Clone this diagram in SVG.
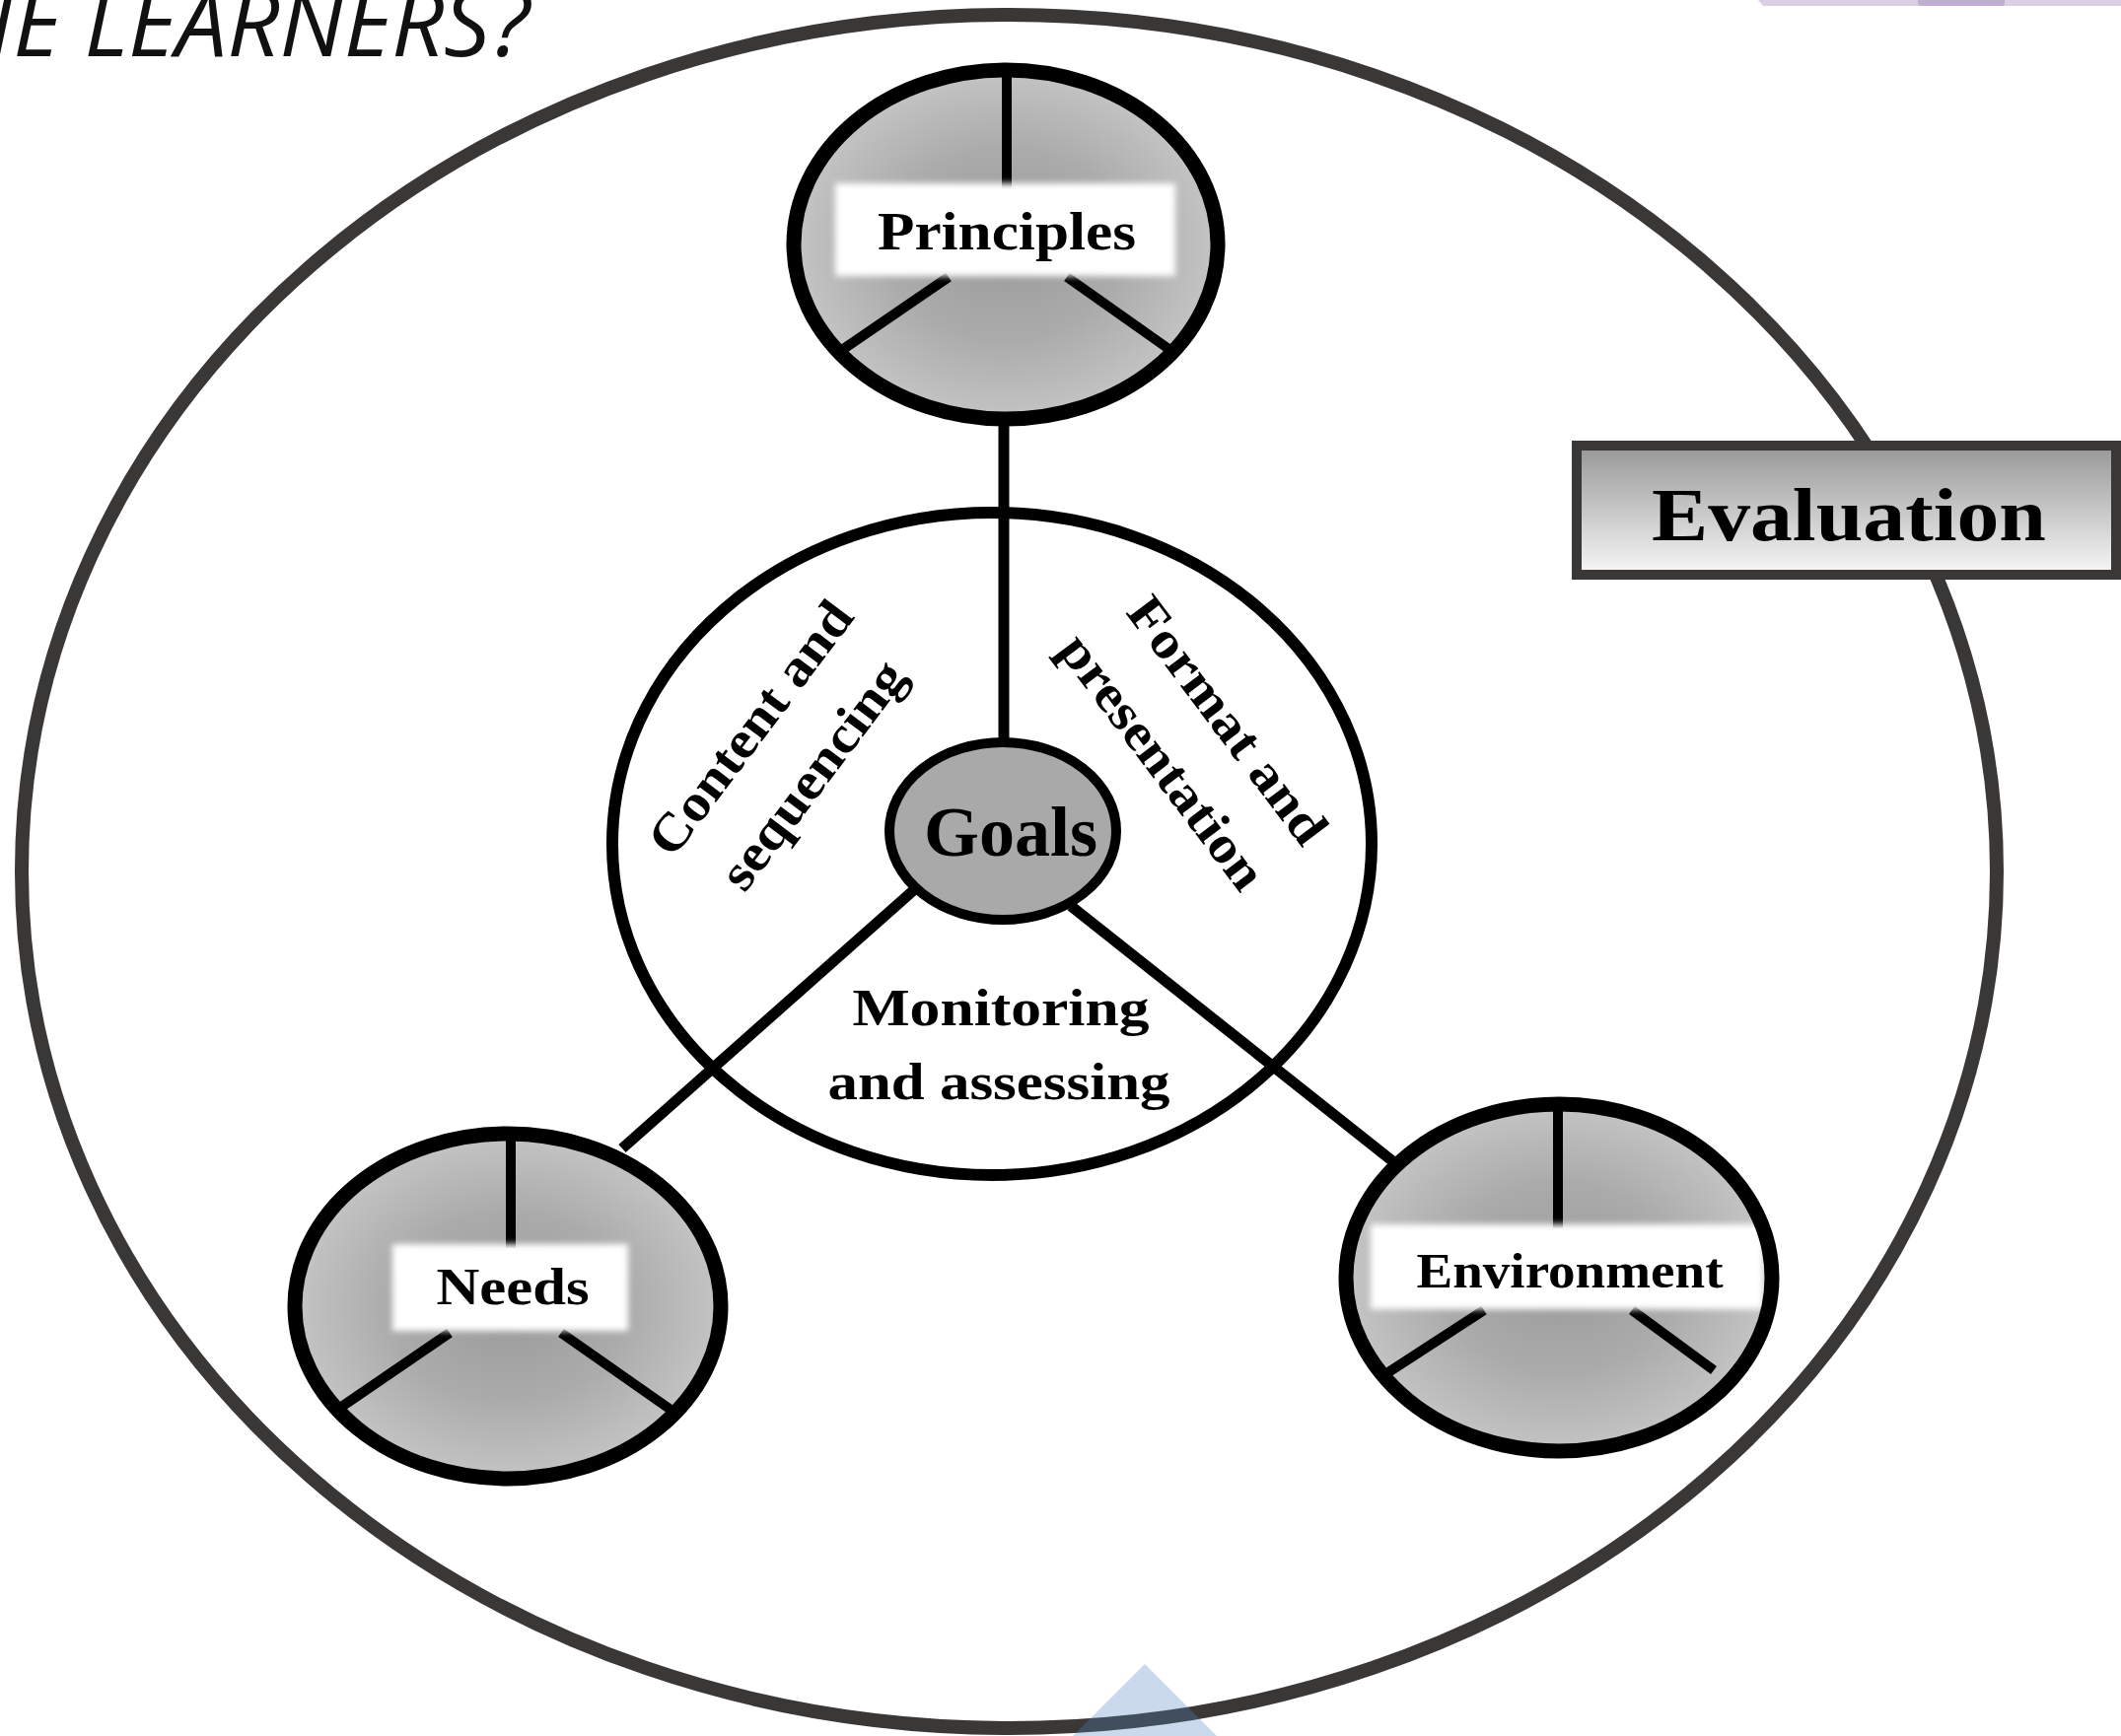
<svg xmlns="http://www.w3.org/2000/svg" width="2151" height="1761" viewBox="0 0 2151 1761">
<style>
.lbl{font-family:"Liberation Serif","Times New Roman",serif;font-weight:bold;fill:#000;text-anchor:middle}
.rim{fill:none;stroke:#000;stroke-width:15}
.seg{stroke:#000;stroke-width:10;fill:none}
.con{stroke:#000;stroke-width:11;fill:none}
.box{fill:#fff;filter:url(#soft)}
.ovl{fill-opacity:0.3}
</style>
<defs>
<radialGradient id="gFill" cx="50%" cy="50%" r="50%">
<stop offset="0" stop-color="#9a9a9a"/>
<stop offset="0.55" stop-color="#ababab"/>
<stop offset="1" stop-color="#c4c4c4"/>
</radialGradient>
<linearGradient id="evalFill" x1="0" y1="0" x2="0" y2="1">
<stop offset="0" stop-color="#979797"/>
<stop offset="1" stop-color="#f7f7f7"/>
</linearGradient>
<filter id="soft" x="-10%" y="-30%" width="120%" height="160%">
<feGaussianBlur stdDeviation="3"/>
</filter>
</defs>
<rect width="2151" height="1761" fill="#fff"/>
<g id="title">
<text x="-50" y="57" font-family="'Open Sans','Noto Sans',sans-serif" font-style="italic" font-size="93" fill="#111">HE LEARNERS?</text>
</g>
<g id="deco-top">
<path class="ovl" fill="#8064a2" d="M1783,0 H2151 V6 H1788 Z"/>
<path class="ovl" fill="#8064a2" d="M1945,0 H2033 V3 Q2033,6 2030,6 H1948 Q1945,6 1945,3 Z"/>
</g>
<g id="evaluation-ring">
<ellipse cx="1023.5" cy="884" rx="1001.5" ry="869" fill="none" stroke="#3a3836" stroke-width="14"/>
</g>
<g id="evaluation">
<rect x="1599" y="452" width="547" height="131" fill="url(#evalFill)" stroke="#3a3836" stroke-width="10"/>
<text class="lbl" x="1875" y="548" font-size="77" textLength="400" lengthAdjust="spacingAndGlyphs">Evaluation</text>
</g>
<g id="core">
<ellipse cx="1006" cy="856" rx="385" ry="336" fill="#fff" stroke="#000" stroke-width="12"/>
<g transform="translate(775,749) rotate(-53)">
<text class="lbl" x="0" y="0" font-size="53" textLength="308" lengthAdjust="spacingAndGlyphs">Content and</text>
<text class="lbl" x="0" y="79" font-size="53" textLength="276" lengthAdjust="spacingAndGlyphs">sequencing</text>
</g>
<g transform="translate(1231,741) rotate(53)">
<text class="lbl" x="0" y="0" font-size="53" textLength="300" lengthAdjust="spacingAndGlyphs">Format and</text>
<text class="lbl" x="-6" y="78" font-size="53" textLength="310" lengthAdjust="spacingAndGlyphs">presentation</text>
</g>
<text class="lbl" x="1015" y="1040" font-size="53" textLength="301" lengthAdjust="spacingAndGlyphs">Monitoring</text>
<text class="lbl" x="1013" y="1115" font-size="53" textLength="347" lengthAdjust="spacingAndGlyphs">and assessing</text>
</g>
<g id="connectors">
<line class="con" x1="1018" y1="430" x2="1018" y2="755"/>
<line class="con" x1="930" y1="900" x2="631" y2="1165"/>
<line class="con" x1="1086" y1="919" x2="1415" y2="1180"/>
</g>
<g id="goals">
<ellipse cx="1017" cy="843" rx="115" ry="90" fill="#a9a9a9" stroke="#000" stroke-width="10"/>
<text class="lbl" x="1025" y="868" font-size="72" fill="#1a1a1a" textLength="176" lengthAdjust="spacingAndGlyphs">Goals</text>
</g>
<g id="principles">
<ellipse cx="1020" cy="248" rx="215" ry="177" fill="url(#gFill)"/>
<line class="seg" x1="1021" y1="71" x2="1021" y2="192"/>
<line class="seg" x1="851" y1="357" x2="962" y2="281"/>
<line class="seg" x1="1082" y1="281" x2="1191" y2="358"/>
<rect class="box" x="847" y="186" width="345" height="94"/>
<ellipse class="rim" cx="1020" cy="248" rx="215" ry="177"/>
<text class="lbl" x="1021" y="253" font-size="54" textLength="262" lengthAdjust="spacingAndGlyphs">Principles</text>
</g>
<g id="needs">
<ellipse cx="515" cy="1325" rx="216" ry="175" fill="url(#gFill)"/>
<line class="seg" x1="518" y1="1150" x2="518" y2="1266"/>
<line class="seg" x1="342" y1="1430" x2="456" y2="1352"/>
<line class="seg" x1="569" y1="1352" x2="686" y2="1434"/>
<rect class="box" x="398" y="1262" width="239" height="88"/>
<ellipse class="rim" cx="515" cy="1325" rx="216" ry="175"/>
<text class="lbl" x="520" y="1323" font-size="53" textLength="155" lengthAdjust="spacingAndGlyphs">Needs</text>
</g>
<g id="environment">
<ellipse cx="1581" cy="1296" rx="216" ry="176" fill="url(#gFill)"/>
<line class="seg" x1="1580" y1="1120" x2="1580" y2="1246"/>
<line class="seg" x1="1405" y1="1394" x2="1505" y2="1329"/>
<line class="seg" x1="1655" y1="1329" x2="1738" y2="1390"/>
<rect class="box" x="1390" y="1242" width="398" height="86"/>
<ellipse class="rim" cx="1581" cy="1296" rx="216" ry="176"/>
<text class="lbl" x="1592" y="1306" font-size="51" textLength="311" lengthAdjust="spacingAndGlyphs">Environment</text>
</g>
<g id="deco-bottom">
<polygon class="ovl" fill="#4f81bd" points="1161,1688 1088,1761 1234,1761"/>
</g>
</svg>
